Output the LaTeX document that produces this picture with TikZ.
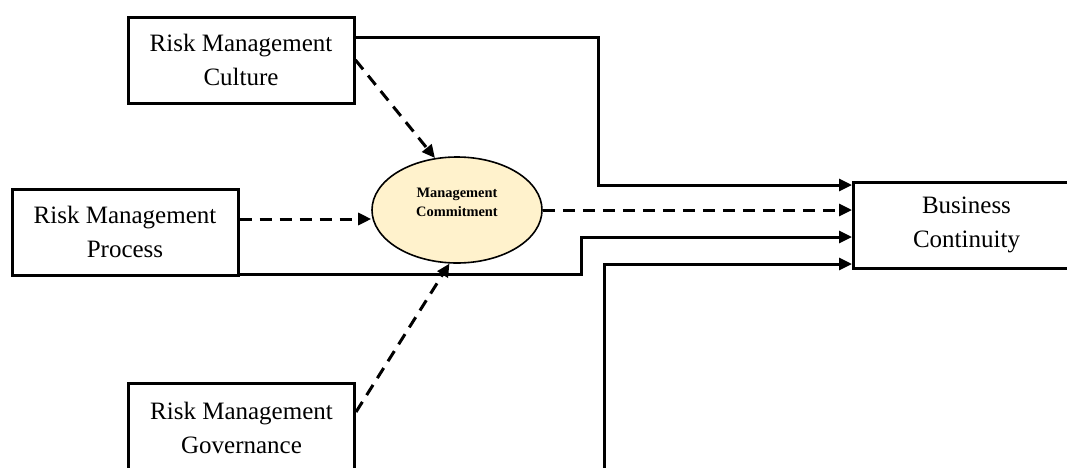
\documentclass[tikz,border=0pt]{standalone}
\usepackage{fontspec}
\setmainfont{Liberation Serif}
\usetikzlibrary{positioning, shapes.geometric, arrows.meta}

\definecolor{mediatorfill}{HTML}{FFF2CC}

\begin{document}
\begin{tikzpicture}[x=0.5pt, y=-0.5pt,
    factor/.style={draw, line width=1.5pt, minimum width=113pt, minimum height=43pt, align=center, font=\fontsize{12.5}{17}\selectfont},
    mediator/.style={ellipse, draw, line width=0.8pt, fill=mediatorfill, minimum width=85pt, minimum height=53pt, inner sep=0pt, align=center, font=\bfseries\fontsize{7.2}{9.5}\selectfont},
    direct/.style={line width=1.5pt, -{Triangle[length=6.5pt, width=6pt]}},
    indirect/.style={direct, dash pattern=on 6pt off 4pt}
  ]
  \useasboundingbox (0,0) rectangle (1067,467);

%% independent variables on the left, mediator in the middle
  \node[factor] (cul) at (241,60) {Risk Management\\Culture};
  \node[factor] (proc) at (125,232) {Risk Management\\Process};
  \node[factor, minimum height=45pt] (gov) at (241.5,428) {Risk Management\\Governance};
  \node[mediator] (mc) at (457,210) {Management\\Commitment\\[-2pt]};

%% dependent variable, its right side is cut off by the page
  \node[factor] (bc) at (966.5,225) {Business\\Continuity};

%% direct paths -> solid lines
  \draw[direct] ([yshift=11.5pt]cul.east) -- ++(243,0) |- ([yshift=20pt]bc.west);
  \draw[direct] ([yshift=1pt]proc.south east) -- ++(342,0) |- ([yshift=-6pt]bc.west);
  \coordinate (feed) at (604,475);
  \draw[direct] (feed) |- ([yshift=-19.5pt]bc.west);

%% paths through the mediator -> dashed lines
  \coordinate (pin) at ([yshift=-4.5pt]mc.west);
  \draw[indirect] (cul.east) -- (mc.113);
  \draw[indirect] (pin -| proc.east) -- (pin);
  \draw[indirect] ([yshift=8pt]gov.east) -- (mc.262);
  \draw[indirect] (mc.east) -- (mc.east -| bc.west);

\end{tikzpicture}
\end{document}
